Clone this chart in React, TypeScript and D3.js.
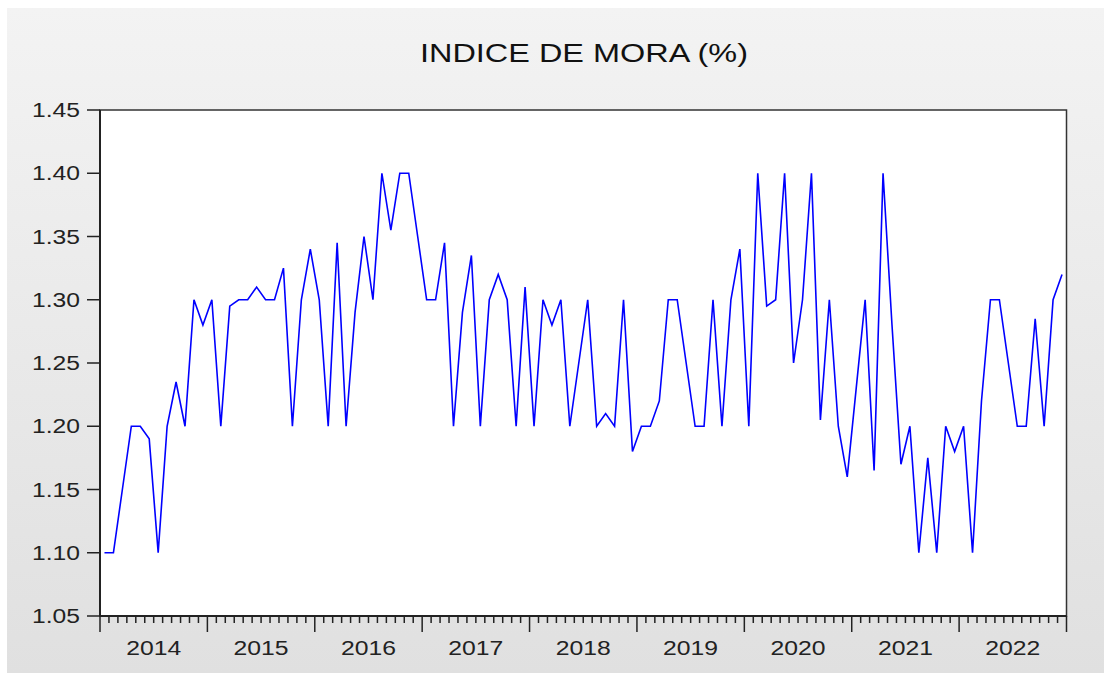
import * as d3 from "d3";
import React from "react";

// monthly delinquency index (%)
const v2014 = [1.10, 1.10, 1.15, 1.20, 1.20, 1.19, 1.10, 1.20, 1.235, 1.20, 1.30, 1.28];
const v2015 = [1.30, 1.20, 1.295, 1.30, 1.30, 1.31, 1.30, 1.30, 1.325, 1.20, 1.30, 1.34];
const v2016 = [1.30, 1.20, 1.345, 1.20, 1.29, 1.35, 1.30, 1.40, 1.355, 1.40, 1.40, 1.35];
const v2017 = [1.30, 1.30, 1.345, 1.20, 1.29, 1.335, 1.20, 1.30, 1.32, 1.30, 1.20, 1.31];
const v2018 = [1.20, 1.30, 1.28, 1.30, 1.20, 1.25, 1.30, 1.20, 1.21, 1.20, 1.30, 1.18];
const v2019 = [1.20, 1.20, 1.22, 1.30, 1.30, 1.25, 1.20, 1.20, 1.30, 1.20, 1.30, 1.34];
const v2020 = [1.20, 1.40, 1.295, 1.30, 1.40, 1.25, 1.30, 1.40, 1.205, 1.30, 1.20, 1.16];
const v2021 = [1.23, 1.30, 1.165, 1.40, 1.28, 1.17, 1.20, 1.10, 1.175, 1.10, 1.20, 1.18];
const v2022 = [1.20, 1.10, 1.22, 1.30, 1.30, 1.25, 1.20, 1.20, 1.285, 1.20, 1.30, 1.32];

const years = ["2014", "2015", "2016", "2017", "2018", "2019", "2020", "2021", "2022"];
const yTicks = [1.05, 1.10, 1.15, 1.20, 1.25, 1.30, 1.35, 1.40, 1.45];
const title = "INDICE DE MORA (%)";

const values = [...v2014, ...v2015, ...v2016, ...v2017, ...v2018, ...v2019, ...v2020, ...v2021, ...v2022];

const W = 1104, H = 673;
const left = 100, right = 1066.5, top = 110, bottom = 616;
const font = "'Liberation Sans', Arial, sans-serif";

export default function App() {
  const nMonths = values.length;
  const x = d3.scaleLinear().domain([0, nMonths]).range([left, right]);
  const y = d3.scaleLinear().domain([1.05, 1.45]).range([bottom, top]);

  const line = d3.line<number>()
    .x((_, i) => x(i + 0.5))
    .y((d) => y(d));

  const monthTicks = d3.range(0, nMonths + 1);

  return (
    <div style={{ position: "fixed", left: 0, top: 0 }}>
      <svg width={W} height={H} style={{ display: "block" }}>
        <defs>
          <linearGradient id="bg" x1="0" y1="0" x2="0" y2="1">
            <stop offset="0" stopColor="#f3f3f3" />
            <stop offset="1" stopColor="#e0e0e0" />
          </linearGradient>
        </defs>
        <rect x={0} y={0} width={W} height={H} fill="#ffffff" />
        <rect x={7} y={8} width={W - 7} height={H - 8} fill="url(#bg)" />

        {/* title */}
        <text x={584} y={62} textAnchor="middle" fontFamily={font} fontSize={26} fill="#111"
          textLength={328} lengthAdjust="spacingAndGlyphs">{title}</text>

        {/* plot area */}
        <rect x={left} y={top} width={right - left} height={bottom - top} fill="#ffffff" stroke="#333" strokeWidth={1.5} />

        {/* y axis */}
        <line x1={left} x2={left} y1={top} y2={bottom} stroke="#222" strokeWidth={2} />
        {yTicks.map((t) => (
          <g key={t}>
            <line x1={87} x2={left} y1={y(t)} y2={y(t)} stroke="#222" strokeWidth={1.5} />
            <text x={80} y={y(t)} dy="0.35em" textAnchor="end" fontFamily={font} fontSize={20} fill="#222"
              textLength={48} lengthAdjust="spacingAndGlyphs">{t.toFixed(2)}</text>
          </g>
        ))}

        {/* x axis */}
        <line x1={left} x2={right} y1={bottom} y2={bottom} stroke="#222" strokeWidth={2} />
        {monthTicks.map((k) => (
          <line key={k} x1={x(k)} x2={x(k)} y1={bottom} y2={k % 12 === 0 ? bottom + 16 : bottom + 7}
            stroke="#222" strokeWidth={1.5} />
        ))}
        {years.map((yr, j) => (
          <text key={yr} x={x(j * 12 + 6)} y={655} textAnchor="middle" fontFamily={font} fontSize={20} fill="#222"
            textLength={55} lengthAdjust="spacingAndGlyphs">{yr}</text>
        ))}

        {/* series */}
        <path d={line(values) || ""} fill="none" stroke="#0000ff" strokeWidth={1.6} strokeLinejoin="miter" />
      </svg>
    </div>
  );
}
